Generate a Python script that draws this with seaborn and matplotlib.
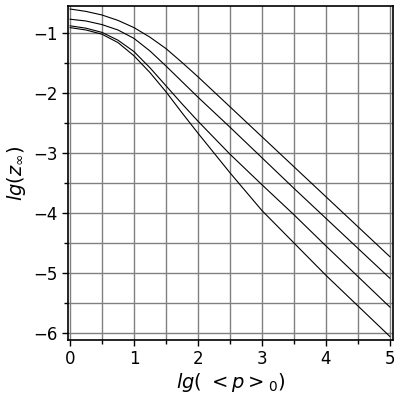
import numpy as np
import pandas as pd
import matplotlib
matplotlib.use("Agg")
import matplotlib.pyplot as plt
import seaborn as sns

x_vals = [0, 0.25, 0.5, 0.75, 1, 1.25, 1.5, 1.75, 2, 2.5, 3, 3.5, 4, 4.5, 5]
curve_a = [-0.60, -0.64, -0.70, -0.79, -0.91, -1.07, -1.26, -1.49, -1.73, -2.23, -2.73, -3.23, -3.73, -4.23, -4.73]
curve_b = [-0.77, -0.80, -0.86, -0.95, -1.09, -1.30, -1.55, -1.81, -2.07, -2.57, -3.08, -3.59, -4.09, -4.59, -5.09]
curve_c = [-0.88, -0.92, -0.99, -1.12, -1.31, -1.58, -1.88, -2.18, -2.47, -3.02, -3.53, -4.03, -4.55, -5.06, -5.57]
curve_d = [-0.91, -0.95, -1.02, -1.16, -1.38, -1.66, -1.98, -2.33, -2.67, -3.33, -3.96, -4.50, -5.04, -5.55, -6.06]

x_ticks = [0, 1, 2, 3, 4, 5]
y_ticks = [-6, -5, -4, -3, -2, -1]

frames = []
for name, vals in [("a", curve_a), ("b", curve_b), ("c", curve_c), ("d", curve_d)]:
    frames.append(pd.DataFrame({"x": x_vals, "y": vals, "curve": name}))
df = pd.concat(frames, ignore_index=True)

sns.set_style("white")
plt.rcParams["font.family"] = ["DejaVu Sans"]

fig = plt.figure(figsize=(4, 4), dpi=100)
ax = fig.add_axes([0.17, 0.15, 0.8125, 0.835])

sns.lineplot(data=df, x="x", y="y", units="curve", estimator=None,
             color="black", linewidth=0.8, ax=ax, legend=False)

ax.set_xlim(-0.031, 5.047)
ax.set_ylim(-6.117, -0.55)
ax.set_xticks(x_ticks)
ax.set_yticks(y_ticks)
ax.set_xticks(np.arange(0.5, 5, 1.0), minor=True)
ax.set_yticks(np.arange(-5.5, -0.5, 1.0), minor=True)
ax.grid(True, which="both", color="#808080", linewidth=1.0)
ax.set_axisbelow(True)
ax.tick_params(axis="both", which="major", direction="out", length=4, width=1,
               labelsize=12, color="black", labelcolor="black", bottom=True, left=True)
ax.tick_params(axis="both", which="minor", direction="out", length=3, width=1,
               color="black", bottom=True, left=True)
for s in ax.spines.values():
    s.set_color("black")
    s.set_linewidth(1.2)

ax.set_xlabel(r"$lg(\ <p>_0)$", fontsize=14, labelpad=2, color="black")
ax.set_ylabel(r"$lg(z_\infty)$", fontsize=14, labelpad=4, color="black")

fig.savefig("out.png", dpi=100)
